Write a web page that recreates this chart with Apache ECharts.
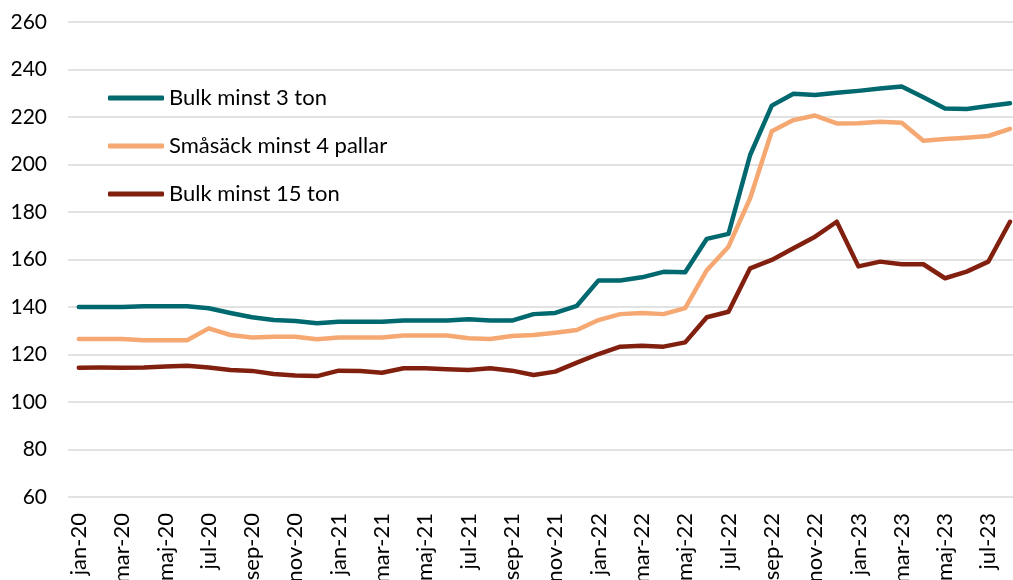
<!DOCTYPE html>
<html>
<head>
<meta charset="utf-8">
<script src="https://cdn.jsdelivr.net/npm/echarts@6/dist/echarts.min.js"></script>
<style>html,body{margin:0;padding:0;background:#fff}#chart{width:1013px;height:580px}</style>
</head>
<body>
<div id="chart"></div>
<script>
const categories = [
  'jan-20','feb-20','mar-20','apr-20','maj-20','jun-20','jul-20','aug-20','sep-20','okt-20','nov-20','dec-20',
  'jan-21','feb-21','mar-21','apr-21','maj-21','jun-21','jul-21','aug-21','sep-21','okt-21','nov-21','dec-21',
  'jan-22','feb-22','mar-22','apr-22','maj-22','jun-22','jul-22','aug-22','sep-22','okt-22','nov-22','dec-22',
  'jan-23','feb-23','mar-23','apr-23','maj-23','jun-23','jul-23','aug-23'
];
const bulk3 = [140.0,140.0,140.0,140.3,140.3,140.3,139.5,137.5,135.7,134.5,134.1,133.2,
  133.8,133.8,133.8,134.3,134.3,134.3,134.8,134.3,134.3,137.0,137.5,140.5,
  151.2,151.2,152.5,154.8,154.6,168.7,170.8,204.0,224.8,229.8,229.3,230.2,
  231.0,232.0,232.8,228.3,223.6,223.4,224.6,225.8];
const smasack4 = [126.5,126.5,126.5,126.0,126.0,126.0,131.0,128.2,127.2,127.5,127.5,126.4,
  127.2,127.2,127.2,128.0,128.0,128.0,126.8,126.5,127.8,128.2,129.2,130.3,
  134.5,137.0,137.5,137.0,139.5,155.5,165.4,185.8,214.0,218.7,220.6,217.3,
  217.4,218.0,217.6,210.0,210.7,211.3,212.0,215.0];
const bulk15 = [114.4,114.5,114.4,114.5,114.9,115.3,114.5,113.5,113.1,111.8,111.2,110.9,
  113.2,113.1,112.3,114.2,114.2,113.8,113.5,114.2,113.2,111.4,112.8,116.6,
  120.2,123.3,123.7,123.3,125.1,135.7,138.0,156.3,159.8,164.7,169.6,175.9,
  157.1,159.1,158.0,158.0,152.1,154.9,159.1,175.9];
const seriesNames = ['Bulk minst 3 ton','Småsäck minst 4 pallar','Bulk minst 15 ton'];
const colors = ['#00686f','#f5a871','#82200f'];
const yTicks = {min:60, max:260, interval:20};

const font = 'Lato, "Open Sans", sans-serif';
const chart = echarts.init(document.getElementById('chart'), null, {renderer:'canvas'});
const mk = (name, data, color) => ({
  name, type:'line', data, symbol:'none', smooth:false, xAxisIndex:1, yAxisIndex:1,
  lineStyle:{color, width:4.5, cap:'round', join:'round'}, itemStyle:{color}
});
chart.setOption({
  animation:false,
  textStyle:{fontFamily:font},
  grid:[
    {left:68, right:0, top:22, height:475, containLabel:false, outerBoundsMode:'none'},
    {left:78.8, right:3, top:22, height:475, containLabel:false, outerBoundsMode:'none'}
  ],
  legend:{
    orient:'vertical', left:108, top:86, itemGap:24, padding:0,
    itemWidth:56, itemHeight:5, icon:'roundRect',
    textStyle:{fontSize:22, lineHeight:24, color:'#000', fontFamily:font},
    data:seriesNames
  },
  xAxis:[
    {type:'value', gridIndex:0, show:false, min:0, max:1},
    {
      type:'category', gridIndex:1, data:categories, boundaryGap:false,
      axisTick:{show:false},
      axisLine:{show:false},
      splitLine:{show:false},
      axisLabel:{interval:1, rotate:90, fontSize:22, color:'#000', margin:16, fontFamily:font}
    }
  ],
  yAxis:[
    {
      type:'value', gridIndex:0, min:yTicks.min, max:yTicks.max, interval:yTicks.interval,
      axisLine:{show:false}, axisTick:{show:false},
      splitLine:{lineStyle:{color:'#d9d9d9', width:1.5}},
      axisLabel:{fontSize:21, color:'#000', margin:21, fontFamily:font}
    },
    {
      type:'value', gridIndex:1, min:yTicks.min, max:yTicks.max, interval:yTicks.interval,
      show:false, splitLine:{show:false}
    }
  ],
  series:[
    mk(seriesNames[0], bulk3, colors[0]),
    mk(seriesNames[1], smasack4, colors[1]),
    mk(seriesNames[2], bulk15, colors[2])
  ]
});
</script>
</body>
</html>
